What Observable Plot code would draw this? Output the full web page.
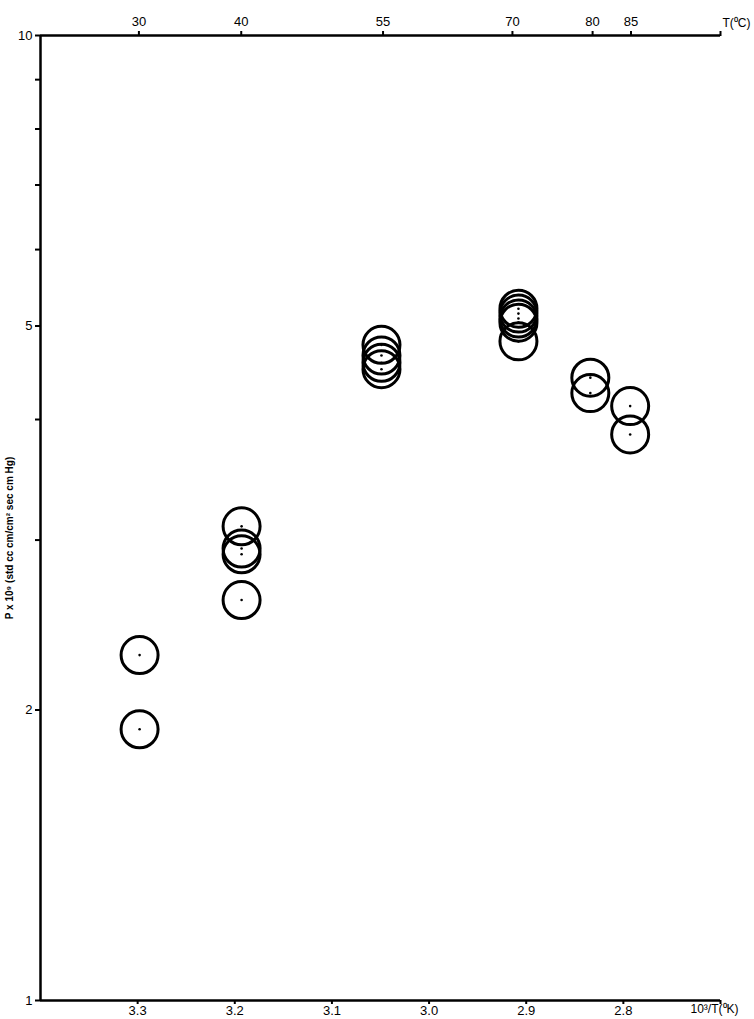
<!DOCTYPE html>
<html>
<head>
<meta charset="utf-8">
<script src="https://cdn.jsdelivr.net/npm/d3@7"></script>
<script src="https://cdn.jsdelivr.net/npm/@observablehq/plot@0.6"></script>
<style>
  html, body { margin: 0; padding: 0; background: #fff; }
  svg { display: block; }
</style>
</head>
<body>
<div id="chart"></div>
<script>
// 10^3/T (K^-1) for each measurement
const invT = [3.298, 3.298,
              3.193, 3.193, 3.193, 3.193,
              3.049, 3.049, 3.049, 3.049,
              2.908, 2.908, 2.908, 2.908, 2.908,
              2.834, 2.834,
              2.793, 2.793];
// P x 10^9 (std cc cm/cm^2 sec cm Hg)
const perm = [2.28, 1.91,
              3.10, 2.94, 2.90, 2.60,
              4.78, 4.66, 4.58, 4.51,
              5.21, 5.15, 5.09, 5.04, 4.82,
              4.42, 4.26,
              4.13, 3.86];

const xTicks = [3.3, 3.2, 3.1, 3.0, 2.9, 2.8, 2.7];
const xTickLabels = ["3.3", "3.2", "3.1", "3.0", "2.9", "2.8", ""];
const tempTicksC = [30, 40, 55, 70, 80, 85];
const yTicks = [1, 2, 3, 4, 5, 6, 7, 8, 9, 10];
const yTickLabels = ["1", "2", "", "", "5", "", "", "", "", "10"];

const data = invT.map((x, i) => ({x, p: perm[i]}));
const topTicks = tempTicksC.map(t => 1000 / (t + 273.15));

const font = "'Liberation Sans', Arial, Helvetica, sans-serif";

const chart = Plot.plot({
  width: 754,
  height: 1019,
  marginLeft: 40,
  marginRight: 34,
  marginTop: 35,
  marginBottom: 19,
  style: {fontFamily: font, fontSize: "13px", color: "#000", background: "#fff"},
  x: {domain: [3.4, 2.7], axis: null},
  y: {type: "log", domain: [1, 10], axis: null},
  marks: [
    // axis frame lines
    Plot.ruleX([3.4], {stroke: "#000", strokeWidth: 2.5}),
    Plot.ruleY([10], {stroke: "#000", strokeWidth: 2.5}),
    Plot.ruleY([1], {stroke: "#000", strokeWidth: 2.5}),
    // bottom axis
    Plot.axisX({anchor: "bottom", ticks: xTicks, tickSize: 4, tickPadding: 1, fontSize: 13,
      tickFormat: d => xTickLabels[xTicks.indexOf(d)], label: null, strokeWidth: 2}),
    // top axis (temperature in °C)
    Plot.axisX({anchor: "top", ticks: topTicks, tickSize: 5, tickPadding: 5, fontSize: 13,
      tickFormat: d => String(tempTicksC[topTicks.indexOf(d)]), label: null, strokeWidth: 2}),
    Plot.axisX({anchor: "top", ticks: [2.7], tickSize: 5, tickFormat: () => "", label: null, strokeWidth: 2}),
    // left axis
    Plot.axisY({anchor: "left", ticks: yTicks, tickSize: 5, tickPadding: 3, fontSize: 13,
      tickFormat: d => yTickLabels[yTicks.indexOf(d)], label: null, strokeWidth: 2}),
    // data circles
    Plot.dot(data, {x: "x", y: "p", r: 18.5, stroke: "#000", strokeWidth: 3, fill: "none"}),
    Plot.dot(data, {x: "x", y: "p", r: 1.3, fill: "#000", stroke: "none"}),
    // axis titles
    Plot.text(["T(\u2070C)"], {frameAnchor: "top-right", dx: 2, dy: -17, textAnchor: "start",
      fontSize: 12, fill: "#000"}),
    Plot.text(["10\u00B3/T(\u2070K)"], {frameAnchor: "bottom-right", dx: -30, dy: 12, textAnchor: "start",
      fontSize: 12, fill: "#000"}),
    Plot.text(["P x 10\u2079 (std cc cm/cm\u00B2 sec cm Hg)"], {frameAnchor: "left", dx: -31, dy: 20,
      rotate: -90, textAnchor: "middle", fontSize: 10, fontWeight: "bold", fill: "#000"})
  ]
});
document.getElementById("chart").appendChild(chart);
</script>
</body>
</html>
